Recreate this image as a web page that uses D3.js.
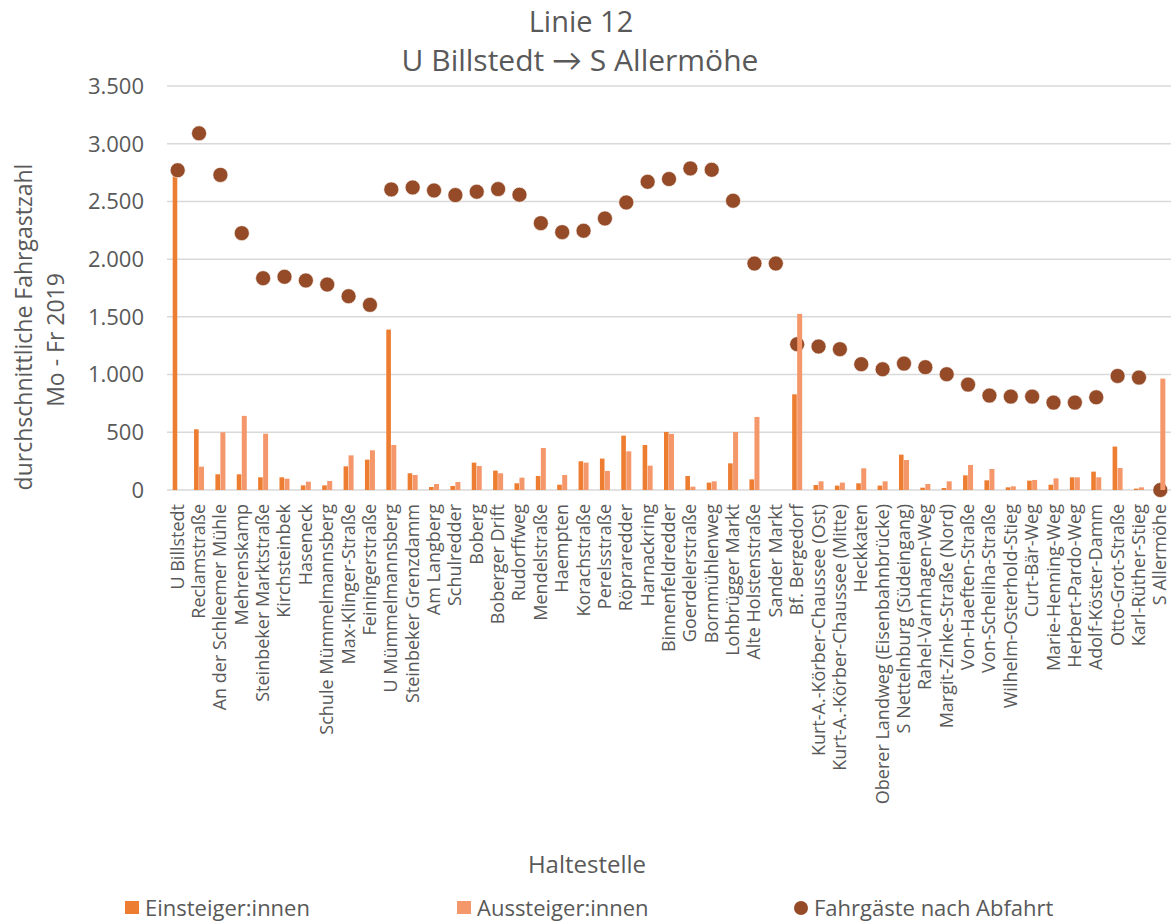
<!DOCTYPE html>
<html>
<head>
<meta charset="utf-8">
<script src="https://cdn.jsdelivr.net/npm/d3@7"></script>
<style>
  body { margin: 0; background: #fff; }
  text { font-family: "Open Sans", Lato, sans-serif; fill: #595959; }
</style>
</head>
<body>
<svg id="chart" width="1171" height="921"></svg>
<script>
const stops = [
  "U Billstedt", "Reclamstraße", "An der Schleemer Mühle", "Mehrenskamp",
  "Steinbeker Marktstraße", "Kirchsteinbek", "Haseneck", "Schule Mümmelmannsberg",
  "Max-Klinger-Straße", "Feiningerstraße", "U Mümmelmannsberg", "Steinbeker Grenzdamm",
  "Am Langberg", "Schulredder", "Boberg", "Boberger Drift", "Rudorffweg", "Mendelstraße",
  "Haempten", "Korachstraße", "Perelsstraße", "Röpraredder", "Harnackring",
  "Binnenfeldredder", "Goerdelerstraße", "Bornmühlenweg", "Lohbrügger Markt",
  "Alte Holstenstraße", "Sander Markt", "Bf. Bergedorf", "Kurt-A.-Körber-Chaussee (Ost)",
  "Kurt-A.-Körber-Chaussee (Mitte)", "Heckkaten", "Oberer Landweg (Eisenbahnbrücke)",
  "S Nettelnburg (Südeingang)", "Rahel-Varnhagen-Weg", "Margit-Zinke-Straße (Nord)",
  "Von-Haeften-Straße", "Von-Scheliha-Straße", "Wilhelm-Osterhold-Stieg", "Curt-Bär-Weg",
  "Marie-Henning-Weg", "Herbert-Pardo-Weg", "Adolf-Köster-Damm", "Otto-Grot-Straße",
  "Karl-Rüther-Stieg", "S Allermöhe"
];

const einsteiger = [
  2770, 526, 136, 136, 110, 110, 40, 40, 205, 263, 1390, 145, 26, 35, 237, 168,
  58, 121, 46, 249, 272, 471, 390, 503, 121, 64, 231, 92, 0, 829, 43, 38, 58, 38,
  306, 20, 17, 127, 84, 23, 81, 46, 110, 159, 376, 12, 0
];

const aussteiger = [
  0, 202, 500, 642, 488, 98, 72, 78, 300, 344, 390, 130, 52, 69, 208, 145,
  107, 364, 130, 237, 165, 335, 211, 486, 29, 75, 503, 633, 0, 1526, 75, 64, 188, 75,
  260, 52, 75, 217, 182, 32, 87, 101, 110, 110, 191, 23, 965
];

const nachAbfahrt = [
  2770, 3090, 2730, 2225, 1835, 1847, 1815, 1780, 1679, 1604, 2604, 2621, 2595, 2555,
  2584, 2607, 2558, 2312, 2234, 2246, 2352, 2491, 2670, 2694, 2786, 2774, 2506, 1962,
  1962, 1263, 1243, 1220, 1090, 1046, 1095, 1064, 1003, 913, 818, 809, 809, 757, 757,
  803, 988, 974, 0
];

const yTicks = [0, 500, 1000, 1500, 2000, 2500, 3000, 3500];

const seriesNames = ["Einsteiger:innen", "Aussteiger:innen", "Fahrgäste nach Abfahrt"];
const colEin = "#ED7D31";
const colAus = "#F4976A";
const colDot = "#954B27";

const de = d3.formatLocale({ decimal: ",", thousands: ".", grouping: [3], currency: ["", " €"] });
const fmt = de.format(",");

const svg = d3.select("#chart");
const plotLeft = 167, plotRight = 1171, plotTop = 86, plotBottom = 490;

const x = d3.scaleBand().domain(stops).range([plotLeft, plotRight]).padding(0);
const x1 = d3.scaleBand().domain(["ein", "aus"]).range([-5, 5]);
const y = d3.scaleLinear().domain([0, 3500]).range([plotBottom, plotTop]);

// gridlines
svg.append("g")
  .selectAll("line")
  .data(yTicks)
  .join("line")
  .attr("x1", plotLeft)
  .attr("x2", plotRight)
  .attr("y1", d => y(d))
  .attr("y2", d => y(d))
  .attr("stroke", "#d9d9d9")
  .attr("stroke-width", 1.5);

// y tick labels
svg.append("g")
  .selectAll("text")
  .data(yTicks)
  .join("text")
  .attr("x", 144)
  .attr("y", d => y(d))
  .attr("dy", "0.36em")
  .attr("text-anchor", "end")
  .style("font-size", "22px")
  .text(d => fmt(d));

// one group per stop
const groups = svg.append("g")
  .selectAll("g")
  .data(stops)
  .join("g")
  .attr("transform", d => `translate(${x(d) + x.bandwidth() / 2},0)`);

groups.append("rect")
  .attr("x", x1("ein"))
  .attr("width", x1.bandwidth() - 0.4)
  .attr("y", (d, i) => y(einsteiger[i]))
  .attr("height", (d, i) => plotBottom - y(einsteiger[i]))
  .attr("fill", colEin);

// dots sit between the two bar series (the light bar overlaps them)
groups.append("circle")
  .attr("cx", 0)
  .attr("cy", (d, i) => y(nachAbfahrt[i]))
  .attr("r", 7.5)
  .attr("fill", colDot)
  .attr("stroke", "#fff")
  .attr("stroke-width", 0.6);

groups.append("rect")
  .attr("x", x1("aus"))
  .attr("width", x1.bandwidth())
  .attr("y", (d, i) => y(aussteiger[i]))
  .attr("height", (d, i) => plotBottom - y(aussteiger[i]))
  .attr("fill", colAus);

// x labels
groups.append("text")
  .attr("transform", `translate(6,${plotBottom + 14}) rotate(-90)`)
  .attr("text-anchor", "end")
  .style("font-size", "18px")
  .text(d => d);

// titles
svg.append("text")
  .attr("x", 581).attr("y", 32)
  .attr("text-anchor", "middle")
  .style("font-size", "29px")
  .text("Linie 12");
svg.append("text")
  .attr("x", 580).attr("y", 71)
  .attr("text-anchor", "middle")
  .style("font-size", "30px")
  .text("U Billstedt \u2192 S Allermöhe");

// y axis title
svg.append("text")
  .attr("transform", "translate(32,327) rotate(-90)")
  .attr("text-anchor", "middle")
  .style("font-size", "23px")
  .text("durchschnittliche Fahrgastzahl");
svg.append("text")
  .attr("transform", "translate(64,340) rotate(-90)")
  .attr("text-anchor", "middle")
  .style("font-size", "23px")
  .text("Mo - Fr 2019");

// x axis title
svg.append("text")
  .attr("x", 587).attr("y", 873)
  .attr("text-anchor", "middle")
  .style("font-size", "24px")
  .text("Haltestelle");

// legend
const legendX = [125, 457, 794];
const legend = svg.append("g")
  .selectAll("g")
  .data(seriesNames)
  .join("g")
  .attr("transform", (d, i) => `translate(${legendX[i]},908)`);

legend.filter((d, i) => i < 2)
  .append("rect")
  .attr("x", 0).attr("y", -7)
  .attr("width", 14).attr("height", 13)
  .attr("fill", (d, i) => i === 0 ? colEin : colAus);

legend.filter((d, i) => i === 2)
  .append("circle")
  .attr("cx", 7).attr("cy", 0)
  .attr("r", 7)
  .attr("fill", colDot);

legend.append("text")
  .attr("x", 20).attr("y", 8)
  .style("font-size", "22px")
  .text(d => d);
</script>
</body>
</html>
